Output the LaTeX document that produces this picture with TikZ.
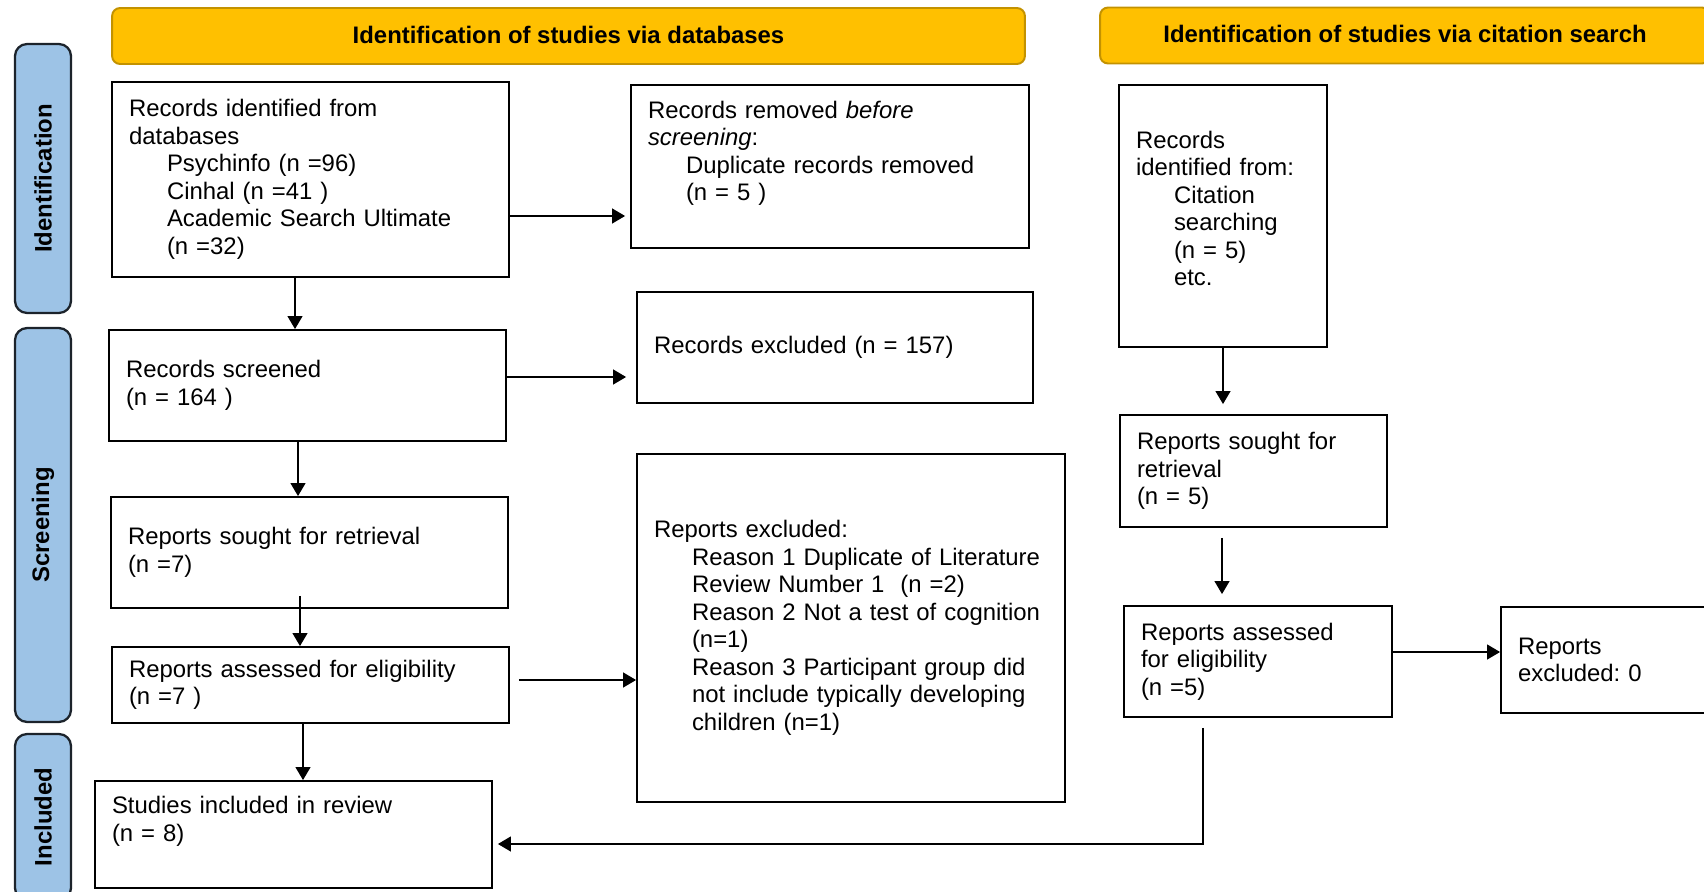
\documentclass[tikz,border=0pt]{standalone}
\usepackage{fontspec}
\setmainfont{Liberation Sans}
\usetikzlibrary{arrows.meta,positioning}

\definecolor{hdrgold}{HTML}{FFC000}
\definecolor{hdredge}{HTML}{C39200}
\definecolor{barblue}{HTML}{9DC3E6}
\definecolor{baredge}{HTML}{1C232B}

\newcommand{\ind}{\hspace*{0.76cm}}
\frenchspacing

\begin{document}
\begin{tikzpicture}[
  x=0.02cm,y=-0.02cm,
  header/.style={draw=hdredge,fill=hdrgold,line width=1.1pt,rounded corners=0.16cm,
                 minimum height=1.12cm,inner sep=0pt,text depth=0.05cm,
                 font=\fontsize{13.6}{15.65}\selectfont\bfseries},
  stagebar/.style={draw=baredge,fill=barblue,line width=1.3pt,rounded corners=0.24cm,
                   minimum height=1.12cm,inner sep=0pt,rotate=90,
                   font=\fontsize{13.6}{15.65}\selectfont\bfseries},
  box/.style={draw=black,fill=white,line width=1.1pt,align=left,
              inner xsep=0.34cm,inner ysep=0pt,
              font=\fontsize{13.6}{15.65}\selectfont},
  arrow/.style={-{Triangle[length=0.26cm,width=0.3cm]},line width=0.7pt}
]
\path[use as bounding box] (0,0) rectangle (1704,892);
\clip (0,0) rectangle (1704,892);

% headers and stage bars
\node[header,minimum width=18.26cm] (hdrdb) at (568.5,36)
  {Identification of studies via databases};
\node[header,minimum width=12.2cm] (hdrcit) at (1405,35.5)
  {Identification of studies via citation search};

\node[stagebar,minimum width=5.38cm] (barid) at (43,178.5) {Identification};
\node[stagebar,minimum width=7.88cm] (barscr) at (43,525) {Screening};
\node[stagebar,minimum width=3.32cm] (barinc) at (43,817) {Included};

% databases column
\node[box,text width=7.26cm,minimum height=3.9cm] (dbrec) at (310.5,179.5)
  {Records identified from\\databases\\\ind Psychinfo (n =96)\\\ind Cinhal (n =41 )\\
   \ind Academic Search Ultimate\\\ind (n =32)\\[-0.45cm]\mbox{}};
\node[box,text width=7.28cm,minimum height=3.26cm] (removed) at (830,166.5)
  {Records removed \textit{before}\\\textit{screening}:\\\ind Duplicate records removed\\
   \ind (n = 5 )\\[0.08cm]\mbox{}};
\node[box,text width=7.26cm,minimum height=2.22cm] (screened) at (307.5,385.5)
  {Records screened\\(n = 164 )};
\node[box,text width=7.24cm,minimum height=2.22cm] (recexcl) at (835,347.5)
  {Records excluded (n = 157)};
\node[box,text width=7.26cm,minimum height=2.22cm] (sought) at (309.5,552.5)
  {Reports sought for retrieval\\(n =7)};
\node[box,text width=7.26cm,minimum height=1.52cm] (assessed) at (310.5,685)
  {Reports assessed for eligibility\\(n =7 )};
\node[box,text width=7.88cm,minimum height=6.96cm] (repexcl) at (851,628)
  {Reports excluded:\\\ind Reason 1 Duplicate of Literature\\\ind Review Number 1~ (n =2)\\
   \ind Reason 2 Not a test of cognition\\\ind (n=1)\\\ind Reason 3 Participant group did\\
   \ind not include typically developing\\\ind children (n=1)};
\node[box,text width=7.26cm,minimum height=2.14cm] (included) at (293.5,834.5)
  {Studies included in review\\(n = 8)\\[0.08cm]\mbox{}};

% citation column
\node[box,text width=3.48cm,minimum height=5.24cm] (citrec) at (1223,216)
  {Records\\identified from:\\\ind Citation\\\ind searching\\\ind (n = 5)\\\ind etc.\\[-0.25cm]\mbox{}};
\node[box,text width=4.66cm,minimum height=2.24cm] (citsought) at (1253.5,471)
  {Reports sought for\\retrieval\\(n = 5)};
\node[box,text width=4.68cm,minimum height=2.22cm] (citassess) at (1258,661.5)
  {Reports assessed\\for eligibility\\(n =5)};
\node[box,text width=3.7cm,minimum height=2.12cm] (citexcl) at (1610.5,660)
  {Reports\\excluded: 0};

% connectors
\draw[arrow,shorten >=0.1cm] ([yshift=-0.73cm]dbrec.east) -- ([yshift=-0.73cm]dbrec.east -| removed.west);
\draw[arrow] ([xshift=-0.31cm]dbrec.south) -- ([xshift=-0.31cm]dbrec.south |- screened.north);
\draw[arrow,shorten >=0.2cm] ([yshift=0.17cm]screened.east) -- ([yshift=0.17cm]screened.east -| recexcl.west);
\draw[arrow] ([xshift=-0.19cm]screened.south) -- ([xshift=-0.19cm]screened.south |- sought.north);
\draw[arrow,shorten <=-0.26cm] ([xshift=-0.19cm]sought.south) -- ([xshift=-0.19cm]sought.south |- assessed.north);
\draw[arrow,shorten <=0.18cm] ([yshift=0.1cm]assessed.east) -- ([yshift=0.1cm]assessed.east -| repexcl.west);
\draw[arrow] ([xshift=-0.15cm]assessed.south) -- ([xshift=-0.15cm]assessed.south |- included.north);

\draw[arrow,shorten >=0.2cm] (citrec.south) -- (citrec.south |- citsought.north);
\draw[arrow,shorten <=0.2cm,shorten >=0.22cm] ([xshift=-0.63cm]citsought.south) -- ([xshift=-0.63cm]citsought.south |- citassess.north);
\draw[arrow] ([yshift=0.19cm]citassess.east) -- ([yshift=0.19cm]citassess.east -| citexcl.west);
\draw[arrow,shorten <=0.2cm,shorten >=0.1cm] ([xshift=-1.1cm]citassess.south) |- ([yshift=-0.19cm]included.east);
\end{tikzpicture}
\end{document}
